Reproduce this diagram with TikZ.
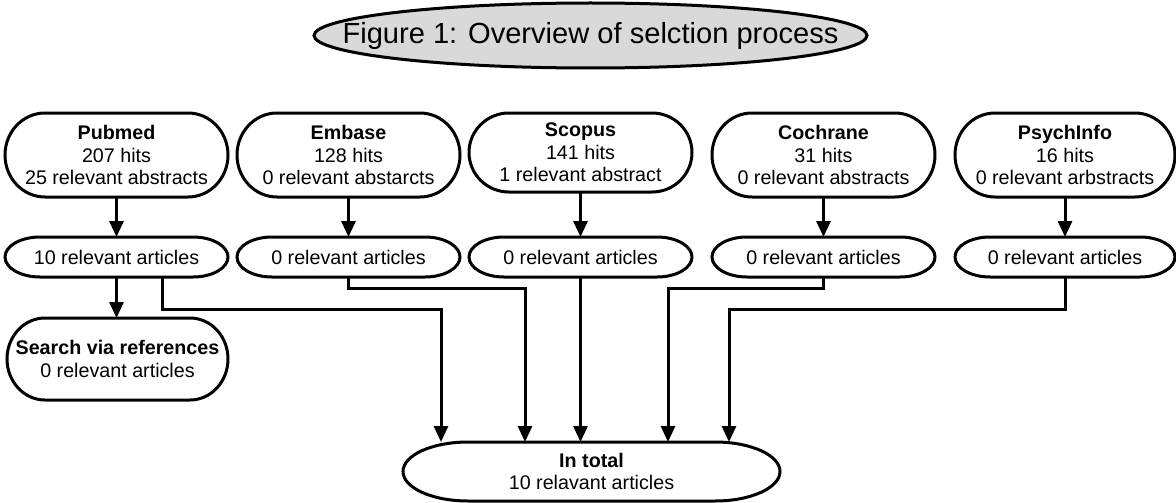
\documentclass[tikz,border=0pt]{standalone}
\usepackage{fontspec}
\setmainfont{Liberation Sans}
\usetikzlibrary{arrows.meta}
\definecolor{titlegray}{HTML}{D9D9D9}
\newcommand{\drawrbox}[3]{%
  \draw[boxline] ([xshift=#2]#1.north west) -- ([xshift=-#2]#1.north east)
    arc[start angle=90,end angle=0,x radius=#2,y radius=#3]
    -- ([yshift=#3]#1.south east)
    arc[start angle=0,end angle=-90,x radius=#2,y radius=#3]
    -- ([xshift=#2]#1.south west)
    arc[start angle=270,end angle=180,x radius=#2,y radius=#3]
    -- ([yshift=-#3]#1.north west)
    arc[start angle=180,end angle=90,x radius=#2,y radius=#3] -- cycle;}
\tikzset{
  boxline/.style={line width=3pt, draw=black},
  txt/.style={rectangle, draw=none, inner sep=0pt, outer sep=0pt, align=center,
    font=\fontsize{19.7}{22.5}\selectfont},
  topbox/.style={txt, minimum width=223pt, minimum height=84pt},
  midbox/.style={txt, minimum width=223pt, minimum height=40pt},
  arr/.style={line width=3pt, -{Triangle[length=16pt,width=14pt]}},
}
\begin{document}
\begin{tikzpicture}[x=1pt,y=-1pt]
\useasboundingbox (0,0) rectangle (1176,503);
% title
\coordinate (tc) at (590.5,35.5);
\draw[boxline, fill=titlegray] (tc) ellipse[x radius=276.5pt, y radius=32.5pt];
\node[txt, font=\fontsize{29.1}{32}\selectfont] (title) at (tc) {Figure 1: Overview of selction process};
% top row
\node[topbox] (pub) at (116.5,155) {\textbf{Pubmed}\\207 hits\\25 relevant abstracts};
\node[topbox] (emb) at (348.5,155) {\textbf{Embase}\\128 hits\\0 relevant abstarcts};
\node[topbox, minimum height=79pt] (sco) at (580.5,152.5) {\textbf{Scopus}\\141 hits\\1 relevant abstract};
\node[topbox] (coc) at (823.5,155) {\textbf{Cochrane}\\31 hits\\0 relevant abstracts};
\node[topbox, minimum width=220pt] (psy) at (1065,155) {\textbf{PsychInfo}\\16 hits\\0 relevant arbstracts};
% second row
\node[midbox] (pub2) at (116.5,257) {10 relevant articles};
\node[midbox] (emb2) at (348.5,257) {0 relevant articles};
\node[midbox] (sco2) at (580.5,257) {0 relevant articles};
\node[midbox] (coc2) at (823.5,257) {0 relevant articles};
\node[midbox, minimum width=220pt] (psy2) at (1065,257) {0 relevant articles};
% search and total
\node[txt, minimum width=221pt, minimum height=82pt] (search) at (117.5,359) {\textbf{Search via references}\\0 relevant articles};
\node[txt, minimum width=377pt, minimum height=59pt] (total) at (591.5,471.5) {\textbf{In total}\\10 relavant articles};
% outlines
\drawrbox{pub}{40pt}{42pt}
\drawrbox{emb}{40pt}{42pt}
\drawrbox{sco}{40pt}{39.5pt}
\drawrbox{coc}{40pt}{42pt}
\drawrbox{psy}{40pt}{42pt}
\drawrbox{pub2}{35pt}{20pt}
\drawrbox{emb2}{35pt}{20pt}
\drawrbox{sco2}{35pt}{20pt}
\drawrbox{coc2}{35pt}{20pt}
\drawrbox{psy2}{35pt}{20pt}
\drawrbox{search}{38pt}{41pt}
\drawrbox{total}{65pt}{29.5pt}
% connectors top -> middle
\draw[arr] (pub.south) -- (pub2.north);
\draw[arr] (emb.south) -- (emb2.north);
\draw[arr] (sco.south) -- (sco2.north);
\draw[arr] (coc.south) -- (coc2.north);
\draw[arr] (psy.south) -- (psy2.north);
\draw[arr] (pub2.south) -- (pub2.south |- search.north);
% connectors to total
\coordinate (pubk) at (162,309);
\coordinate (embk) at (348.5,288);
\coordinate (cock) at (823.5,288);
\coordinate (psyk) at (1065,309);
\draw[arr] (pub2.south -| pubk) -- (pubk) -| ([xshift=-150.5pt]total.north);
\draw[arr] (emb2.south) -- (embk) -| ([xshift=-66.5pt]total.north);
\draw[arr] (sco2.south) -- (sco2.south |- total.north);
\draw[arr] (coc2.south) -- (cock) -| ([xshift=76.5pt]total.north);
\draw[arr] (psy2.south) -- (psyk) -| ([xshift=137.5pt]total.north);
\end{tikzpicture}
\end{document}
